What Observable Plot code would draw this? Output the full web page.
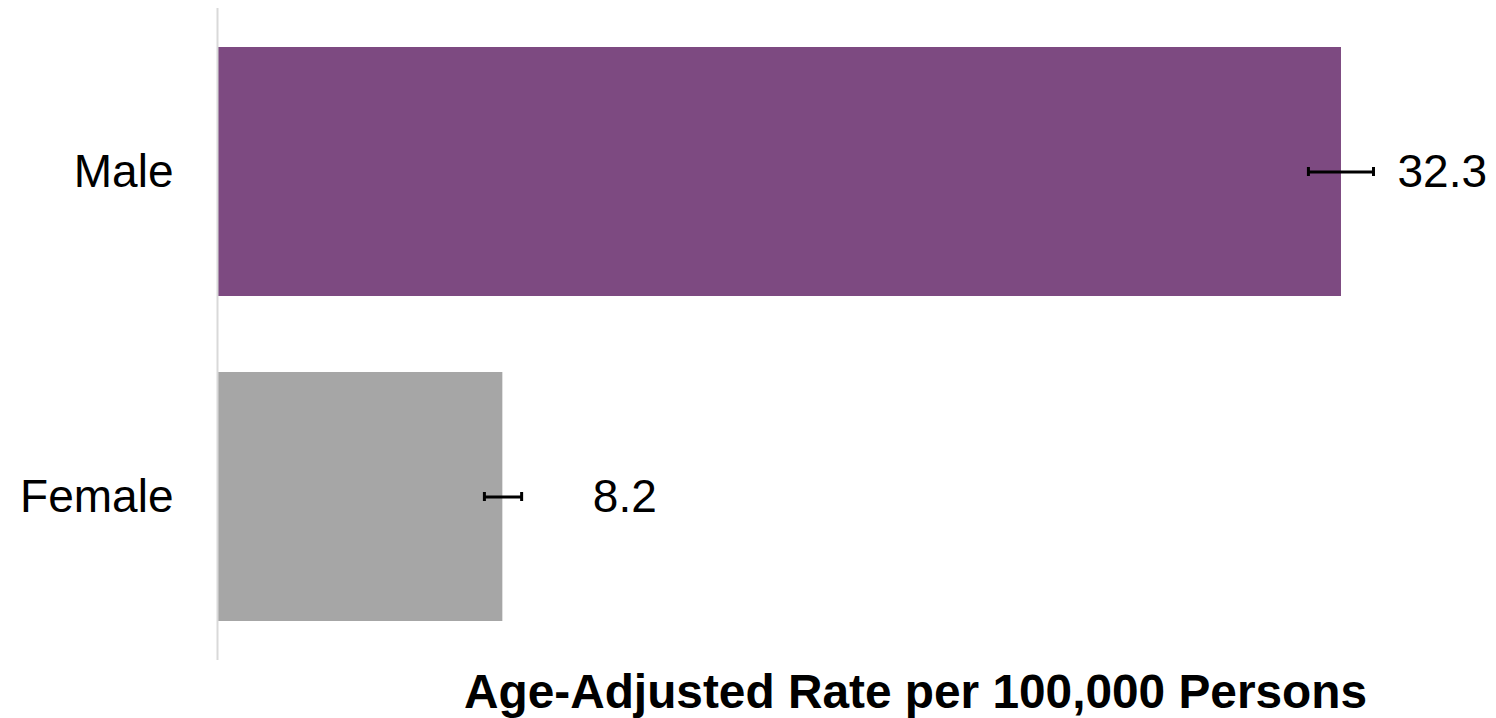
<!DOCTYPE html>
<html>
<head>
<meta charset="utf-8">
<script src="https://cdn.jsdelivr.net/npm/d3@7"></script>
<script src="https://cdn.jsdelivr.net/npm/@observablehq/plot@0.6"></script>
<style>
  html, body { margin: 0; padding: 0; background: #fff; }
  #chart svg { display: block; }
</style>
</head>
<body>
<div id="chart"></div>
<script>
const categories = ["Male", "Female"];
const rates = [32.3, 8.2];
const lower = [31.35, 7.67];
const upper = [33.22, 8.74];
const labels = ["32.3", "8.2"];
const colors = ["#7D4A81", "#A6A6A6"];
const axisTitle = "Age-Adjusted Rate per 100,000 Persons";

const data = categories.map((c, i) => ({
  sex: c, rate: rates[i], lo: lower[i], hi: upper[i], label: labels[i], color: colors[i]
}));

const font = "'Liberation Sans', Arial, sans-serif";

const chart = Plot.plot({
  width: 1496,
  height: 718,
  marginLeft: 217,
  marginRight: 107,
  marginTop: 8,
  marginBottom: 58,
  style: { fontFamily: font, color: "#000", background: "#fff" },
  x: { domain: [0, 33.68], axis: null },
  y: { domain: categories, paddingInner: 0.233, paddingOuter: 0.117, label: null },
  marks: [
    Plot.barX(data, { x: "rate", y: "sex", fill: "color" }),
    Plot.ruleX([0], { stroke: "#D9D9D9", strokeWidth: 2 }),
    Plot.ruleY(data, { x1: "lo", x2: "hi", y: "sex", stroke: "#000", strokeWidth: 3 }),
    Plot.tickX(data, { x: "lo", y: "sex", stroke: "#000", strokeWidth: 3, insetTop: 120, insetBottom: 120 }),
    Plot.tickX(data, { x: "hi", y: "sex", stroke: "#000", strokeWidth: 3, insetTop: 120, insetBottom: 120 }),
    Plot.text(data.filter(d => d.sex === "Male"), { x: "rate", y: "sex", text: "label", textAnchor: "start", dx: 56, fontSize: 46, fill: "#000" }),
    Plot.text(data.filter(d => d.sex === "Female"), { x: "rate", y: "sex", text: "label", textAnchor: "start", dx: 90, fontSize: 46, fill: "#000" }),
    Plot.axisY({ tickSize: 0, tickPadding: 44, fontSize: 46, label: null, fill: "#000" }),
    Plot.text([axisTitle], { frameAnchor: "bottom", dx: 112, dy: 32, lineAnchor: "middle", fontSize: 47.8, fontWeight: "bold", fill: "#000" })
  ]
});

document.getElementById("chart").appendChild(chart);
</script>
</body>
</html>
